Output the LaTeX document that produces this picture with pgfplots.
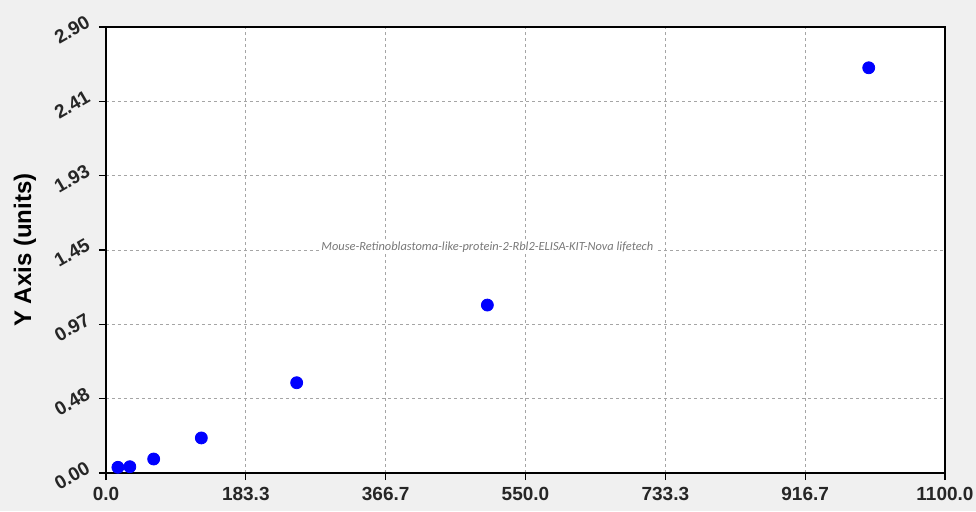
\documentclass[border=0pt]{standalone}
\usepackage{fontspec}
\setmainfont{Liberation Sans}
\newfontfamily\wmfont{Carlito}
\usepackage{pgfplots}
\pgfplotsset{compat=1.18}
\definecolor{bggray}{RGB}{240,240,240}
\definecolor{gridgray}{RGB}{165,165,165}
\definecolor{ptblue}{RGB}{0,0,255}
\definecolor{wmgray}{RGB}{120,120,120}

\begin{document}
\begin{tikzpicture}
\useasboundingbox (-53pt,-19pt) rectangle (435pt,236.5pt);
\fill[bggray] (-53pt,-19pt) rectangle (435pt,236.5pt);
\begin{axis}[
    at={(0,0)}, anchor=south west,
    scale only axis,
    width=419.5pt, height=223pt,
    xmin=0, xmax=1100, ymin=0, ymax=2.9,
    axis background/.style={fill=white},
    xtick={0,183.333,366.667,550,733.333,916.667,1100},
    xticklabels={0.0,183.3,366.7,550.0,733.3,916.7,1100.0},
    ytick={0,0.48333,0.96667,1.45,1.93333,2.41667,2.9},
    yticklabels={0.00,0.48,0.97,1.45,1.93,2.41,2.90},
    minor x tick num=3, minor y tick num=3,
    xtick pos=left, ytick pos=left,
    tick align=outside,
    major tick length=3.5pt, minor tick length=2pt,
    xmajorgrids, ymajorgrids,
    major grid style={gridgray, dash pattern=on 1.5pt off 1.5pt, line width=0.4pt},
    axis line style={line width=0.7pt},
    tick style={black, line width=0.6pt},
    ticklabel style={font=\bfseries\fontsize{9.5}{11}\selectfont, text=black!85},
    yticklabel style={anchor=center, xshift=-13.5pt, yshift=-1.5pt, rotate=30},
    ylabel={Y Axis (units)},
    every axis y label/.style={at={(axis description cs:-0.0966,0.5)}, rotate=90, anchor=center,
        font=\bfseries\fontsize{12}{14}\selectfont},
]
\addplot[only marks, mark=*, mark size=3pt, color=ptblue] coordinates {
    (15.6,0.037)
    (31.25,0.041)
    (62.5,0.091)
    (125,0.228)
    (250,0.587)
    (500,1.092)
    (1000,2.635)
};
\node[fill=white, inner sep=1pt, text=wmgray, font=\wmfont\itshape\fontsize{6.2}{7}\selectfont]
    at (axis cs:500,1.47) {Mouse-Retinoblastoma-like-protein-2-Rbl2-ELISA-KIT-Nova lifetech};
\end{axis}
\end{tikzpicture}
\end{document}
